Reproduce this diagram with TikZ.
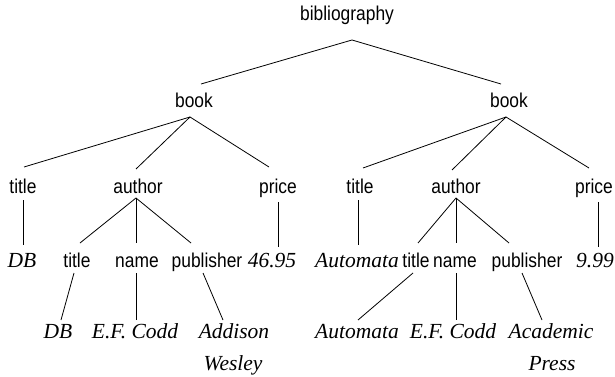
\documentclass[tikz,border=0pt]{standalone}
\usepackage{fontspec}
\newfontfamily\labfont[FakeStretch=0.87]{Liberation Sans}
\newfontfamily\valfont{Liberation Serif}
\tikzset{
  lab/.style={anchor=base, inner sep=0pt, font={\labfont\fontsize{20pt}{24pt}\selectfont}},
  val/.style={anchor=base, inner sep=0pt, font={\valfont\itshape\fontsize{21.5pt}{25pt}\selectfont}},
  link/.style={line width=0.8pt, black}
}
\begin{document}
\begin{tikzpicture}[x=1pt,y=-1pt]
\useasboundingbox (0,0) rectangle (615,377);
% level 0 and 1
\node[lab] (bib) at (347,21) {bibliography};
\node[lab] (b1) at (194,107) {book};
\node[lab] (b2) at (509,107) {book};
% level 2
\node[lab] (t1) at (23,193) {title};
\node[lab] (a1) at (138,193) {author};
\node[lab] (p1) at (278,193) {price};
\node[lab] (t2) at (360,193) {title};
\node[lab] (a2) at (456,193) {author};
\node[lab] (p2) at (594,193) {price};
% level 3
\node[val] (v1) at (22,267) {DB};
\node[lab] (t3) at (77,267) {title};
\node[lab] (n1) at (137,267) {name};
\node[lab] (pu1) at (207,267) {publisher};
\node[val] (v2) at (272,267) {46.95};
\node[val] (v3) at (357,267) {Automata};
\node[lab] (t4) at (416,267) {title};
\node[lab] (n2) at (455,267) {name};
\node[lab] (pu2) at (527,267) {publisher};
\node[val] (v4) at (595,267) {9.99};
% level 4
\node[val] (w1) at (58,338) {DB};
\node[val] (w2) at (135,338) {E.F. Codd};
\node[val] (w3) at (234,338) {Addison};
\node[val] (w3b) at (233,370) {Wesley};
\node[val] (w4) at (357,338) {Automata};
\node[val] (w5) at (453,338) {E.F. Codd};
\node[val] (w6) at (551,338) {Academic};
\node[val] (w6b) at (552,370) {Press};
% connectors
\draw[link] ([xshift=5pt,yshift=-19pt]bib.base) -- ([xshift=7pt,yshift=23pt]b1.base);
\draw[link] ([xshift=5pt,yshift=-19pt]bib.base) -- ([xshift=-8pt,yshift=23pt]b2.base);
\draw[link] ([xshift=-4pt,yshift=-10pt]b1.base) -- ([xshift=1pt,yshift=26pt]t1.base);
\draw[link] ([xshift=-4pt,yshift=-10pt]b1.base) -- ([xshift=-2pt,yshift=24pt]a1.base);
\draw[link] ([xshift=-4pt,yshift=-10pt]b1.base) -- ([xshift=-9pt,yshift=26pt]p1.base);
\draw[link] ([xshift=-3pt,yshift=-10pt]b2.base) -- ([xshift=3pt,yshift=25pt]t2.base);
\draw[link] ([xshift=-3pt,yshift=-10pt]b2.base) -- ([xshift=-4pt,yshift=23pt]a2.base);
\draw[link] ([xshift=-3pt,yshift=-10pt]b2.base) -- ([xshift=-5pt,yshift=25pt]p2.base);
\draw[link] ([yshift=-7pt]t1.base) -- ([xshift=1pt,yshift=22pt]v1.base);
\draw[link] ([yshift=-9pt]p1.base) -- ([xshift=6pt,yshift=20pt]v2.base);
\draw[link] ([xshift=-2pt,yshift=-7pt]t2.base) -- ([xshift=1pt,yshift=22pt]v3.base);
\draw[link] ([xshift=4pt,yshift=-9pt]p2.base) -- ([xshift=3pt,yshift=20pt]v4.base);
\draw[link] ([xshift=-2pt,yshift=-5pt]a1.base) -- ([xshift=3pt,yshift=24pt]t3.base);
\draw[link] ([xshift=-2pt,yshift=-5pt]a1.base) -- ([xshift=-1pt,yshift=24pt]n1.base);
\draw[link] ([xshift=-2pt,yshift=-5pt]a1.base) -- ([xshift=-16pt,yshift=24pt]pu1.base);
\draw[link] ([yshift=-5pt]a2.base) -- ([xshift=2pt,yshift=24pt]t4.base);
\draw[link] ([yshift=-5pt]a2.base) -- ([xshift=1pt,yshift=24pt]n2.base);
\draw[link] ([yshift=-5pt]a2.base) -- ([xshift=-18pt,yshift=24pt]pu2.base);
\draw[link] ([xshift=-3pt,yshift=-6pt]t3.base) -- ([xshift=3pt,yshift=18pt]w1.base);
\draw[link] ([xshift=-1pt,yshift=-6pt]n1.base) -- ([xshift=1pt,yshift=18pt]w2.base);
\draw[link] ([xshift=-4pt,yshift=-6pt]pu1.base) -- ([xshift=-11pt,yshift=18pt]w3.base);
\draw[link] ([xshift=-3pt,yshift=-6pt]t4.base) -- ([xshift=1pt,yshift=18pt]w4.base);
\draw[link] ([xshift=1pt,yshift=-6pt]n2.base) -- ([xshift=3pt,yshift=18pt]w5.base);
\draw[link] ([xshift=-5pt,yshift=-6pt]pu2.base) -- ([xshift=-9pt,yshift=18pt]w6.base);
\end{tikzpicture}
\end{document}
